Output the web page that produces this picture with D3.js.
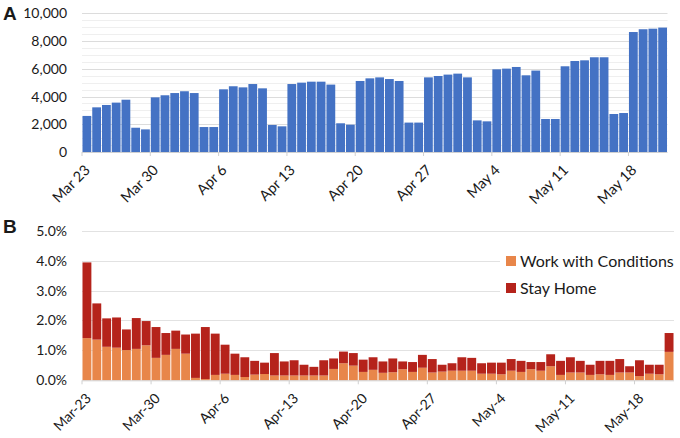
<!DOCTYPE html>
<html>
<head>
<meta charset="utf-8">
<script src="https://cdn.jsdelivr.net/npm/d3@7"></script>
<style>
  html, body { margin: 0; padding: 0; background: #fff; }
  svg { display: block; }
  text { font-family: Lato, "Open Sans", sans-serif; fill: #1a1a1a; }
</style>
</head>
<body>
<svg id="chart" width="680" height="438"></svg>
<script>
// ---------- DATA ----------
const categories = [
  "Mar 23","Mar 24","Mar 25","Mar 26","Mar 27","Mar 28","Mar 29","Mar 30","Mar 31",
  "Apr 1","Apr 2","Apr 3","Apr 4","Apr 5","Apr 6","Apr 7","Apr 8","Apr 9","Apr 10",
  "Apr 11","Apr 12","Apr 13","Apr 14","Apr 15","Apr 16","Apr 17","Apr 18","Apr 19","Apr 20",
  "Apr 21","Apr 22","Apr 23","Apr 24","Apr 25","Apr 26","Apr 27","Apr 28","Apr 29","Apr 30",
  "May 1","May 2","May 3","May 4","May 5","May 6","May 7","May 8","May 9","May 10",
  "May 11","May 12","May 13","May 14","May 15","May 16","May 17","May 18","May 19","May 20","May 21"
];

// Panel A: daily count
const dailyCount = [
  2600,3220,3390,3560,3770,1750,1630,3940,4090,4250,
  4380,4250,1800,1800,4520,4740,4660,4900,4590,1950,
  1850,4900,5000,5070,5070,4860,2070,1970,5120,5310,
  5380,5260,5120,2120,2120,5380,5480,5580,5650,5380,
  2280,2210,5960,6010,6130,5530,5870,2380,2380,6180,
  6560,6610,6830,6830,2740,2810,8650,8850,8890,8970
];

// Panel B: percentages
const workWithConditions = [
  1.41,1.36,1.12,1.09,1.01,1.05,1.17,0.75,0.85,1.05,
  0.89,0.08,0.04,0.18,0.22,0.18,0.11,0.19,0.21,0.16,
  0.16,0.16,0.16,0.16,0.16,0.38,0.57,0.49,0.28,0.35,
  0.25,0.27,0.37,0.28,0.42,0.26,0.29,0.32,0.32,0.32,
  0.22,0.22,0.20,0.32,0.28,0.37,0.32,0.47,0.18,0.26,
  0.26,0.18,0.20,0.18,0.26,0.26,0.14,0.22,0.20,0.95
];
const stayHome = [
  2.53,1.21,0.95,1.01,0.69,1.03,0.81,1.03,0.73,0.61,
  0.64,1.48,1.74,1.38,0.97,0.71,0.66,0.46,0.38,0.75,
  0.47,0.51,0.36,0.29,0.51,0.35,0.39,0.42,0.41,0.42,
  0.38,0.46,0.26,0.33,0.43,0.45,0.23,0.25,0.45,0.43,
  0.35,0.37,0.39,0.39,0.37,0.24,0.29,0.40,0.47,0.51,
  0.39,0.34,0.45,0.47,0.45,0.21,0.53,0.30,0.32,0.63
];

const tickCats = ["Mar 23","Mar 30","Apr 6","Apr 13","Apr 20","Apr 27","May 4","May 11","May 18"];
const tickLabelsA = ["Mar 23","Mar 30","Apr 6","Apr 13","Apr 20","Apr 27","May 4","May 11","May 18"];
const tickLabelsB = ["Mar-23","Mar-30","Apr-6","Apr-13","Apr-20","Apr-27","May-4","May-11","May-18"];
const yTicksA = [0, 2000, 4000, 6000, 8000, 10000];
const yTicksB = [0, 1, 2, 3, 4, 5];
const seriesNames = ["Work with Conditions", "Stay Home"];
const seriesColors = ["#E8864A", "#B5231B"];

// ---------- DRAW ----------
const svg = d3.select("#chart");
const P = 0.1;

function xAxisDraw(g, x, y0, labels, offX, offY, fs) {
  const step = x.step();
  const ax = d3.axisBottom(x).tickValues(tickCats).tickSize(4).tickSizeOuter(0)
    .tickFormat((d, i) => labels[i]);
  const gg = g.append("g").attr("transform", `translate(${-step / 2},${y0})`).call(ax);
  gg.select(".domain").remove();
  gg.selectAll(".tick line").attr("stroke", "#d0d0d0");
  gg.selectAll(".tick text")
    .attr("x", 0).attr("y", 0).attr("dy", 0)
    .attr("transform", `translate(${offX},${offY}) rotate(-45)`)
    .attr("text-anchor", "end")
    .style("font-size", fs);
  g.append("line")
    .attr("x1", x.range()[0]).attr("x2", x.range()[1])
    .attr("y1", y0 + 0.5).attr("y2", y0 + 0.5)
    .attr("stroke", "#d0d0d0");
}

// ----- Panel A -----
{
  const left = 82, right = 667.5, top = 13.3, bottom = 152;
  const x = d3.scaleBand().domain(categories).range([left, right]).paddingInner(P).paddingOuter(P / 2);
  const y = d3.scaleLinear().domain([0, 10000]).range([bottom, top]);
  const g = svg.append("g");

  g.append("g").selectAll("line").data(d3.range(500, 10001, 500))
    .join("line")
    .attr("x1", left).attr("x2", right)
    .attr("y1", d => Math.round(y(d)) + 0.5).attr("y2", d => Math.round(y(d)) + 0.5)
    .attr("stroke", d => d % 2000 === 0 ? "#dcdcdc" : "#efefef");

  const ya = d3.axisLeft(y).tickValues(yTicksA).tickSize(0).tickPadding(15)
    .tickFormat(d3.format(","));
  const yg = g.append("g").attr("transform", `translate(${left},0)`).call(ya);
  yg.select(".domain").remove();
  yg.selectAll("text").style("font-size", "14px");

  g.append("g").selectAll("rect").data(dailyCount)
    .join("rect")
    .attr("x", (d, i) => x(categories[i]))
    .attr("width", x.bandwidth())
    .attr("y", d => y(d))
    .attr("height", d => y(0) - y(d))
    .attr("fill", "#4472C4");

  xAxisDraw(g, x, bottom, tickLabelsA, 9, 19, "14.5px");

  svg.append("text").attr("x", 3).attr("y", 20).text("A")
    .style("font-family", "Arial, 'Liberation Sans', sans-serif")
    .style("font-weight", "bold").style("font-size", "19px");
}

// ----- Panel B -----
{
  const left = 82, right = 674, top = 230.7, bottom = 380.3;
  const x = d3.scaleBand().domain(categories).range([left, right]).paddingInner(P).paddingOuter(P / 2);
  const y = d3.scaleLinear().domain([0, 5]).range([bottom, top]);
  const g = svg.append("g");

  g.append("g").selectAll("line").data(yTicksB.slice(1))
    .join("line")
    .attr("x1", left).attr("x2", right)
    .attr("y1", d => Math.round(y(d)) + 0.5).attr("y2", d => Math.round(y(d)) + 0.5)
    .attr("stroke", "#e2e2e2");

  const ya = d3.axisLeft(y).tickValues(yTicksB).tickSize(0).tickPadding(15)
    .tickFormat(d => d.toFixed(1) + "%");
  const yg = g.append("g").attr("transform", `translate(${left},0)`).call(ya);
  yg.select(".domain").remove();
  yg.selectAll("text").style("font-size", "14px");

  const rows = categories.map((c, i) => ({ cat: c, work: workWithConditions[i], stay: stayHome[i] }));
  const stacked = d3.stack().keys(["work", "stay"])(rows);

  g.append("g").selectAll("g").data(stacked).join("g")
    .attr("fill", (d, i) => seriesColors[i])
    .selectAll("rect").data(d => d).join("rect")
    .attr("x", d => x(d.data.cat))
    .attr("width", x.bandwidth())
    .attr("y", d => y(d[1]))
    .attr("height", d => y(d[0]) - y(d[1]));

  xAxisDraw(g, x, bottom, tickLabelsB, 10, 19, "14px");

  // legend
  const lg = svg.append("g");
  lg.append("rect").attr("x", 500).attr("y", 246).attr("width", 180).attr("height", 54).attr("fill", "#fff");
  seriesNames.forEach((n, i) => {
    const cy = 261 + i * 27;
    lg.append("rect").attr("x", 506).attr("y", cy - 5).attr("width", 10).attr("height", 10)
      .attr("fill", seriesColors[i]);
    lg.append("text").attr("x", 520).attr("y", cy).attr("dy", "0.36em").text(n)
      .style("font-size", "16px");
  });

  svg.append("text").attr("x", 3).attr("y", 233).text("B")
    .style("font-family", "Arial, 'Liberation Sans', sans-serif")
    .style("font-weight", "bold").style("font-size", "19px");
}
</script>
</body>
</html>
